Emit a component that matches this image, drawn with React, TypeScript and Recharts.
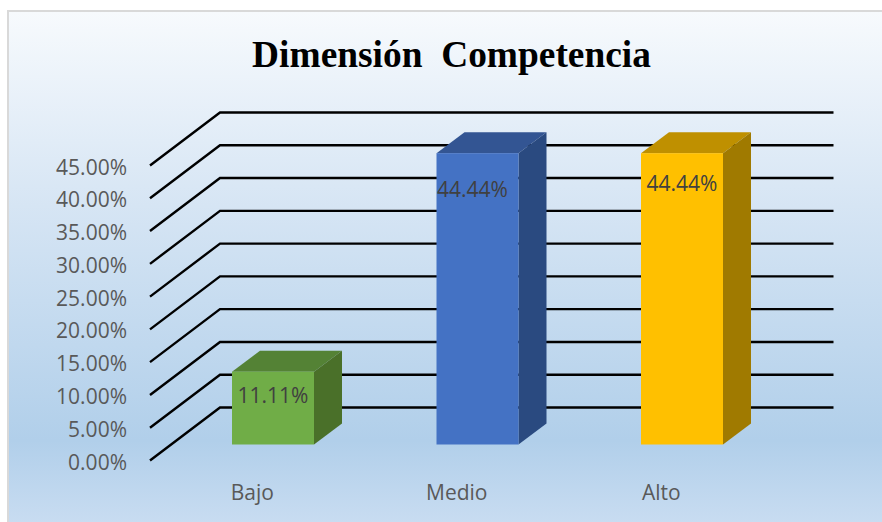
import React from 'react';
import { BarChart, Bar, XAxis, YAxis, CartesianGrid, LabelList } from 'recharts';

const categories = ['Bajo', 'Medio', 'Alto'];
const values = [11.11, 44.44, 44.44];
const frontColors = ['#70AD47', '#4472C4', '#FFC000'];
const topColors = ['#548235', '#335593', '#BF9000'];
const sideColors = ['#4A7029', '#2A4A80', '#A07A00'];
const yTicks = [0, 5, 10, 15, 20, 25, 30, 35, 40, 45];
const labelShifts = [{ dx: 0, dy: 23 }, { dx: -5, dy: 36 }, { dx: 0, dy: 30 }];
const title = 'Dimensión  Competencia';

const data = categories.map((name, i) => ({ name, value: values[i] }));

const FONT = '"Open Sans", sans-serif';
const TICK_COLOR = '#595959';
const DEPTH_X = 28;
const DEPTH_Y = 21;
const FRONT_DX = 21;
const FRONT_DY = -16;
const GRID_DX = 70;
const GRID_DY = -53;

const GridLine = (props: any) => {
  const { x1, y1, x2 } = props;
  return (
    <polyline
      points={`${x1},${y1} ${x1 + GRID_DX},${y1 + GRID_DY} ${x2 + GRID_DX},${y1 + GRID_DY}`}
      fill="none"
      stroke="#000"
      strokeWidth={2.4}
    />
  );
};

const Bar3D = (props: any) => {
  const { x, y, width, height, index } = props;
  const l = x + FRONT_DX;
  const t = y + FRONT_DY;
  const r = l + width;
  const b = t + height;
  return (
    <g>
      <polygon points={`${l},${t} ${l + DEPTH_X},${t - DEPTH_Y} ${r + DEPTH_X},${t - DEPTH_Y} ${r},${t}`} fill={topColors[index]} />
      <polygon points={`${r},${t} ${r + DEPTH_X},${t - DEPTH_Y} ${r + DEPTH_X},${b - DEPTH_Y} ${r},${b}`} fill={sideColors[index]} />
      <rect x={l} y={t} width={width} height={height} fill={frontColors[index]} />
    </g>
  );
};

const BarLabel = (props: any) => {
  const { x, y, width, value, index } = props;
  const shift = labelShifts[index];
  return (
    <text
      x={x + FRONT_DX + width / 2 + shift.dx}
      y={y + FRONT_DY + shift.dy}
      textAnchor="middle"
      dominantBaseline="central"
      fontFamily={FONT}
      fontSize={21}
      fill="#404040"
    >
      {`${Number(value).toFixed(2)}%`}
    </text>
  );
};

const YTick = (props: any) => {
  const { x, y, payload } = props;
  return (
    <text x={x} y={y + 1} textAnchor="end" dominantBaseline="central" fontFamily={FONT} fontSize={21} fill={TICK_COLOR}>
      {`${Number(payload.value).toFixed(2)}%`}
    </text>
  );
};

export default function App() {
  return (
    <div style={{ position: 'absolute', left: 0, top: 0, width: 882, height: 522, background: '#fff', overflow: 'hidden' }}>
      <div
        style={{
          position: 'absolute',
          left: 7,
          top: 10,
          width: 875,
          height: 512,
          boxSizing: 'border-box',
          borderLeft: '2px solid #D9D9D9',
          borderTop: '2px solid #D9D9D9',
          background: 'linear-gradient(180deg, #F7FAFD 0%, #D6E5F4 38%, #B1CFEA 84%, #C8DCF1 100%)',
        }}
      />
      <div
        style={{
          position: 'absolute',
          left: 0,
          top: 32,
          width: 903,
          textAlign: 'center',
          whiteSpace: 'pre',
          fontFamily: '"Liberation Serif", serif',
          fontWeight: 700,
          fontSize: 37.4,
          lineHeight: '46px',
          color: '#000',
        }}
      >
        {title}
      </div>
      <div style={{ position: 'absolute', left: 0, top: 0 }}>
        <BarChart width={882} height={522} data={data} margin={{ top: 165.5, right: 118.5, bottom: 0, left: 0 }}>
          <CartesianGrid vertical={false} horizontal={(p: any) => <GridLine key={p.key} {...p} />} />
          <XAxis
            dataKey="name"
            height={61.5}
            axisLine={false}
            tickLine={false}
            tickSize={0}
            tickMargin={25}
            tick={{ fontFamily: FONT, fontSize: 21, fill: TICK_COLOR }}
          />
          <YAxis
            width={150}
            domain={[0, 45]}
            ticks={yTicks}
            axisLine={false}
            tickLine={false}
            tickSize={0}
            tickMargin={23}
            tick={<YTick />}
          />
          <Bar dataKey="value" barSize={82} shape={<Bar3D />} isAnimationActive={false}>
            <LabelList dataKey="value" content={<BarLabel />} />
          </Bar>
        </BarChart>
      </div>
    </div>
  );
}
